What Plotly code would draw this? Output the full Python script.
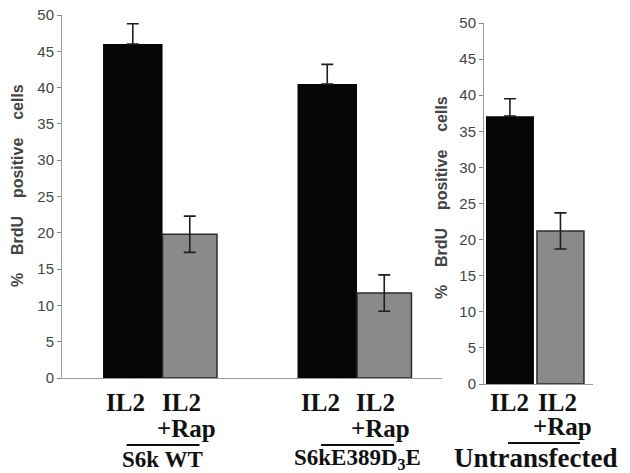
import plotly.graph_objects as go

# ---- data ----
groups_left = ["S6k WT", "S6kE389D<sub>3</sub>E"]
il2_left = [46.0, 40.5]
il2_left_err = [2.8, 2.7]
rap_left = [19.8, 11.7]
rap_left_err = [2.5, 2.5]

groups_right = ["Untransfected"]
il2_right = [37.1]
il2_right_err = [2.4]
rap_right = [21.2]
rap_right_err = [2.5]

y_ticks = [0, 5, 10, 15, 20, 25, 30, 35, 40, 45, 50]

BLACK = "#050505"
GRAY = "#8a8a8a"
EDGE = "#2b2b2b"
ERRC = "#1e1e1e"

xl = list(range(len(groups_left)))
xr = list(range(len(groups_right)))

fig = go.Figure()

def err_up(v):
    return dict(type="data", array=v, arrayminus=[0] * len(v), symmetric=False,
                color=ERRC, thickness=1.6, width=6, visible=True)

def err(v):
    return dict(type="data", array=v, color=ERRC, thickness=1.6, width=6, visible=True)

# left panel
fig.add_trace(go.Bar(x=xl, y=il2_left, error_y=err_up(il2_left_err), width=0.306, offset=-0.306,
                     marker=dict(color=BLACK, line=dict(width=0)), xaxis="x", yaxis="y", name="IL2"))
fig.add_trace(go.Bar(x=xl, y=rap_left, error_y=err(rap_left_err), width=0.28, offset=0.0,
                     marker=dict(color=GRAY, line=dict(width=1.5, color=EDGE)), xaxis="x", yaxis="y", name="IL2+Rap"))
# right panel
fig.add_trace(go.Bar(x=xr, y=il2_right, error_y=err_up(il2_right_err), width=0.44, offset=-0.454,
                     marker=dict(color=BLACK, line=dict(width=0)), xaxis="x2", yaxis="y2", name="IL2"))
fig.add_trace(go.Bar(x=xr, y=rap_right, error_y=err(rap_right_err), width=0.431, offset=0.014,
                     marker=dict(color=GRAY, line=dict(width=1.5, color=EDGE)), xaxis="x2", yaxis="y2", name="IL2+Rap"))

tickfont = dict(family="Liberation Sans, Arial", size=15, color="#444")
common_y = dict(range=[0, 50], tickvals=y_ticks, showgrid=False, zeroline=False,
                showline=True, linecolor="#9a9a9a", linewidth=1,
                ticks="outside", ticklen=4, tickcolor="#888", tickwidth=1,
                tickfont=tickfont, ticksuffix="\u00a0\u00a0", automargin=False)
common_x = dict(showgrid=False, zeroline=False, showline=True, linecolor="#9a9a9a",
                linewidth=1, ticks="", showticklabels=False, automargin=False)

fig.update_layout(
    width=630, height=473, autosize=False,
    margin=dict(l=0, r=0, t=0, b=0, pad=0),
    paper_bgcolor="white", plot_bgcolor="rgba(0,0,0,0)",
    showlegend=False, barmode="overlay",
    xaxis=dict(domain=[62/630, 442/630], range=[-0.517, 1.437], anchor="y", **common_x),
    yaxis=dict(domain=[1-378/473, 1-15/473], anchor="x", **common_y),
    xaxis2=dict(domain=[484/630, 593/630], range=[-0.472, 0.528], anchor="y2", **common_x),
    yaxis2=dict(domain=[1-384/473, 1-23/473], anchor="x2", **common_y),
    # inner halves of the crossing ticks
    yaxis3=dict(overlaying="y", anchor="x", range=[0, 50], tickvals=y_ticks, ticks="inside",
                ticklen=5, tickcolor="#888", showticklabels=False, showline=False,
                showgrid=False, zeroline=False, side="left", automargin=False),
    yaxis4=dict(overlaying="y2", anchor="x2", range=[0, 50], tickvals=y_ticks, ticks="inside",
                ticklen=5, tickcolor="#888", showticklabels=False, showline=False,
                showgrid=False, zeroline=False, side="left", automargin=False),
)

serif = "Liberation Serif, Times New Roman, serif"
ann = []
shapes = []

def panel_labels(xref, xs, names, il2_dx, rap_dx, line_x0, line_x1, y_il2, y_rap, y_line, y_name, name_size):
    for xi, nm in zip(xs, names):
        for dx in il2_dx:
            ann.append(dict(xref=xref, yref="paper", x=xi + dx, y=y_il2, text="<b>IL2</b>",
                            showarrow=False, font=dict(family=serif, size=25, color="#111"),
                            xanchor="center", yanchor="middle", borderpad=0))
        ann.append(dict(xref=xref, yref="paper", x=xi + rap_dx, y=y_rap, text="<b>+Rap</b>",
                        showarrow=False, font=dict(family=serif, size=25, color="#111"),
                        xanchor="center", yanchor="middle", borderpad=0))
        shapes.append(dict(type="line", xref=xref, yref="paper", x0=xi + line_x0, x1=xi + line_x1,
                           y0=y_line, y1=y_line, line=dict(color="#111", width=2.2)))
        ann.append(dict(xref=xref, yref="paper", x=xi, y=y_name, text="<b>" + nm + "</b>",
                        showarrow=False, font=dict(family=serif, size=name_size, color="#111"),
                        xanchor="center", yanchor="middle", borderpad=0))

panel_labels("x", xl, groups_left, (-0.19, 0.095), 0.122, -0.185, 0.19,
             1-402/473, 1-428/473, 1-445/473, 1-459/473, 23)
panel_labels("x2", xr, groups_right, (-0.234, 0.206), 0.252, -0.252, 0.408,
             1-402/473, 1-426/473, 1-443/473, 1-458/473, 27)

title = "<b>%\u00a0\u00a0\u00a0\u00a0BrdU\u00a0\u00a0\u00a0\u00a0positive\u00a0\u00a0\u00a0\u00a0cells</b>"
ann.append(dict(xref="paper", yref="paper", x=17/630, y=1-186/473, text=title, textangle=-90,
                showarrow=False, font=dict(family="Liberation Sans, Arial", size=16, color="#444"),
                xanchor="center", yanchor="middle"))
ann.append(dict(xref="paper", yref="paper", x=441/630, y=1-198/473, text=title, textangle=-90,
                showarrow=False, font=dict(family="Liberation Sans, Arial", size=16, color="#444"),
                xanchor="center", yanchor="middle"))

fig.update_layout(annotations=ann, shapes=shapes)
fig.write_html("out.html", config={"displayModeBar": False, "staticPlot": True},
               post_script="document.body.style.margin='0';document.body.style.overflow='hidden';")
